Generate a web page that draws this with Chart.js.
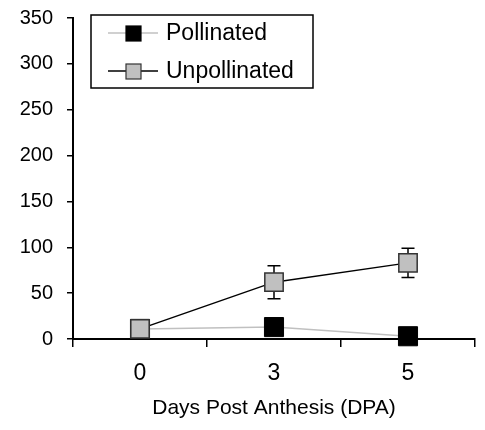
<!DOCTYPE html>
<html>
<head>
<meta charset="utf-8">
<script src="https://cdn.jsdelivr.net/npm/chart.js@4/dist/chart.umd.min.js"></script>
<style>
  html, body { margin: 0; padding: 0; background: #fff; }
  #wrap { width: 485px; height: 430px; position: relative; }
</style>
</head>
<body>
<div id="wrap"><canvas id="dpaChart"></canvas></div>
<script>
// --- DATA ---
const days = ['0', '3', '5'];
const pollinated = [11, 13, 3];
const unpollinated = [11, 62, 83];
const pollinatedErr = [0, 0, 0];
const unpollinatedErr = [0, 18, 16];
const yMax = 350;
const yStep = 50;

const FONT = "'Liberation Sans', Arial, sans-serif";
const GREY = '#c0c0c0';

// error bars, drawn under the markers
const errorBars = {
    id: 'errorBars',
    beforeDatasetsDraw(chart) {
        const ctx = chart.ctx;
        const y = chart.scales.y;
        chart.data.datasets.forEach((ds, i) => {
            const meta = chart.getDatasetMeta(i);
            (ds.errors || []).forEach((err, j) => {
                if (!err) return;
                const px = meta.data[j].x;
                const top = y.getPixelForValue(ds.data[j] + err);
                const bot = y.getPixelForValue(ds.data[j] - err);
                ctx.save();
                ctx.strokeStyle = '#000';
                ctx.lineWidth = 1.5;
                ctx.beginPath();
                ctx.moveTo(px, top); ctx.lineTo(px, bot);
                ctx.moveTo(px - 6.5, top); ctx.lineTo(px + 6.5, top);
                ctx.moveTo(px - 6.5, bot); ctx.lineTo(px + 6.5, bot);
                ctx.stroke();
                ctx.restore();
            });
        });
    }
};

// boxed legend with line + marker samples
const boxLegend = {
    id: 'boxLegend',
    afterDraw(chart) {
        const ctx = chart.ctx;
        ctx.save();
        ctx.strokeStyle = '#000';
        ctx.lineWidth = 1.5;
        ctx.strokeRect(91, 15, 222, 73);
        const rows = [
            { label: 'Pollinated', y: 33, line: GREY, fill: '#000', edge: '#000' },
            { label: 'Unpollinated', y: 71, line: '#000', fill: GREY, edge: '#333' }
        ];
        rows.forEach(r => {
            ctx.strokeStyle = r.line;
            ctx.lineWidth = 1.3;
            ctx.beginPath();
            ctx.moveTo(108, r.y); ctx.lineTo(158, r.y);
            ctx.stroke();
            ctx.fillStyle = r.fill;
            ctx.fillRect(126, r.y - 7, 15, 15);
            ctx.strokeStyle = r.edge;
            ctx.lineWidth = 1.2;
            ctx.strokeRect(126, r.y - 7, 15, 15);
            ctx.fillStyle = '#000';
            ctx.font = '23px ' + FONT;
            ctx.textBaseline = 'middle';
            ctx.textAlign = 'left';
            ctx.fillText(r.label, 166, r.y + 1);
        });
        ctx.restore();
    }
};

const ctx = document.getElementById('dpaChart').getContext('2d');
new Chart(ctx, {
    type: 'line',
    data: {
        labels: days,
        datasets: [
            {
                label: 'Pollinated',
                data: pollinated,
                errors: pollinatedErr,
                borderColor: GREY,
                borderWidth: 1.5,
                backgroundColor: '#000',
                pointBorderColor: '#000',
                pointBorderWidth: 1,
                pointStyle: 'rect',
                pointRadius: 13.5,
                clip: false,
                order: 1
            },
            {
                label: 'Unpollinated',
                data: unpollinated,
                errors: unpollinatedErr,
                borderColor: '#000',
                borderWidth: 1.5,
                backgroundColor: GREY,
                pointBorderColor: '#333',
                pointBorderWidth: 1.5,
                pointStyle: 'rect',
                pointRadius: 13,
                clip: false,
                order: 0
            }
        ]
    },
    options: {
        responsive: true,
        maintainAspectRatio: false,
        animation: false,
        layout: { autoPadding: false, padding: { top: 18, right: 10, left: 0, bottom: 0 } },
        plugins: {
            legend: { display: false },
            tooltip: { enabled: false }
        },
        scales: {
            x: {
                offset: true,
                grid: { offset: true, drawOnChartArea: false, drawTicks: true, tickLength: 8, color: '#000', lineWidth: 1.5 },
                border: { color: '#000', width: 2 },
                ticks: { color: '#000', font: { family: FONT, size: 23 }, padding: 13 },
                title: {
                    display: true,
                    text: 'Days Post Anthesis (DPA)',
                    color: '#000',
                    font: { family: FONT, size: 21 },
                    padding: { top: 0, bottom: 9 }
                },
                afterFit(scale) {
                    scale.height = 91;
                    scale.paddingLeft = 0;
                    scale.paddingRight = 0;
                }
            },
            y: {
                min: 0,
                max: yMax,
                grid: { drawOnChartArea: false, tickLength: 6, color: '#000', lineWidth: 1.5 },
                border: { color: '#000', width: 2 },
                ticks: { stepSize: yStep, color: '#000', font: { family: FONT, size: 20 }, padding: 14 },
                afterFit(scale) {
                    scale.width = 73;
                    scale.paddingTop = 0;
                    scale.paddingBottom = 0;
                }
            }
        }
    },
    plugins: [errorBars, boxLegend]
});
</script>
</body>
</html>
